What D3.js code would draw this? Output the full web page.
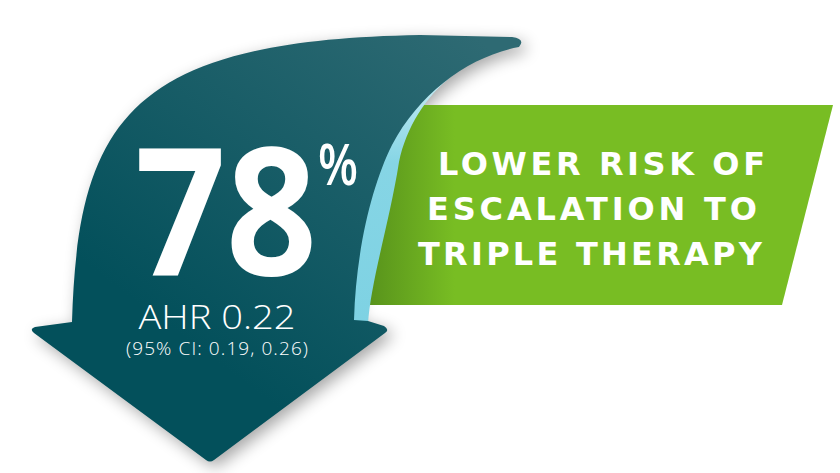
<!DOCTYPE html>
<html>
<head>
<meta charset="utf-8">
<script src="https://cdn.jsdelivr.net/npm/d3@7"></script>
<style>
  html, body { margin: 0; padding: 0; background: #fff; }
  svg { display: block; }
</style>
</head>
<body>
<svg id="chart" width="840" height="473"></svg>
<script>
// values shown on the graphic
const headline = [78];
const headlineUnit = ["%"];
const ahrValue = [0.22];
const ciBounds = [0.19, 0.26];
const labelLines = ["LOWER RISK OF", "ESCALATION TO", "TRIPLE THERAPY"];

const svg = d3.select("#chart");
const defs = svg.append("defs");

// soft shadow under the arrow
const shadow = defs.append("filter").attr("id", "shadow")
  .attr("x", "-20%").attr("y", "-20%").attr("width", "140%").attr("height", "140%");
shadow.append("feGaussianBlur").attr("in", "SourceAlpha").attr("stdDeviation", 8);
shadow.append("feOffset").attr("dx", 5).attr("dy", 5).attr("result", "off");
shadow.append("feComponentTransfer").append("feFuncA").attr("type", "linear").attr("slope", 0.35);

const tealGrad = defs.append("linearGradient").attr("id", "teal")
  .attr("x1", "0.9").attr("y1", "0").attr("x2", "0.3").attr("y2", "0.7");
tealGrad.append("stop").attr("offset", "0%").attr("stop-color", "#2e6a73");
tealGrad.append("stop").attr("offset", "100%").attr("stop-color", "#03505b");

const greenGrad = defs.append("linearGradient").attr("id", "green")
  .attr("x1", "0").attr("y1", "0").attr("x2", "1").attr("y2", "0");
greenGrad.append("stop").attr("offset", "0%").attr("stop-color", "#558f1b");
greenGrad.append("stop").attr("offset", "20%").attr("stop-color", "#78bd23");
greenGrad.append("stop").attr("offset", "100%").attr("stop-color", "#78bd23");

const blueGrad = defs.append("linearGradient").attr("id", "blue")
  .attr("x1", "0").attr("y1", "0").attr("x2", "0").attr("y2", "1");
blueGrad.append("stop").attr("offset", "0%").attr("stop-color", "#c6ecf3");
blueGrad.append("stop").attr("offset", "35%").attr("stop-color", "#86d5e5");
blueGrad.append("stop").attr("offset", "100%").attr("stop-color", "#7ed2e3");

// arrow outline
const arrowPath = "M72,322 C78,120 130,40 420,35 L512,37 Q526,39 519,47 " +
  "C470,56 420,92 392,145 C372,185 356,250 354,320 " +
  "L368,321 L384,326 Q390,330 385,333 L214,460 Q210,463 206,460 L34,333 Q29,329 35,327 Z";

// light blue curl on the right edge of the shaft
const curlPath = "M452,76 C426,96 406,128 399,162 C390,220 371,280 368,324 " +
  "L346,324 C348,250 362,185 384,142 C410,95 440,80 452,76 Z";

svg.append("path").attr("d", arrowPath).attr("fill", "#000").attr("filter", "url(#shadow)");

// green panel
svg.append("path")
  .attr("d", d3.line()([[380, 105], [833, 105], [782, 305], [360, 305]]) + "Z")
  .attr("fill", "url(#green)");

svg.append("path").attr("d", curlPath).attr("fill", "url(#blue)");
svg.append("path").attr("d", arrowPath).attr("fill", "url(#teal)");

const font = "'Open Sans', 'DejaVu Sans', sans-serif";
const wide = "'DejaVu Sans', 'Open Sans', sans-serif";

// big number with its unit as a raised tspan
const big = svg.append("text")
  .attr("x", 135).attr("y", 275)
  .attr("font-family", font).attr("fill", "#fff");
big.append("tspan")
  .attr("font-weight", 700).attr("font-size", 178)
  .attr("textLength", 182).attr("lengthAdjust", "spacingAndGlyphs")
  .text(headline[0]);
big.append("tspan")
  .attr("x", 318).attr("y", 185)
  .attr("font-weight", 600).attr("font-size", 57)
  .attr("textLength", 40).attr("lengthAdjust", "spacingAndGlyphs")
  .text(headlineUnit[0]);

const f2 = d3.format(".2f");
svg.append("text")
  .attr("x", 217).attr("y", 329).attr("text-anchor", "middle")
  .attr("font-family", font).attr("font-weight", 300)
  .attr("font-size", 33).attr("fill", "#fff")
  .attr("textLength", 157).attr("lengthAdjust", "spacingAndGlyphs")
  .text(`AHR ${f2(ahrValue[0])}`);

svg.append("text")
  .attr("x", 217).attr("y", 355).attr("text-anchor", "middle")
  .attr("font-family", font).attr("font-weight", 300)
  .attr("font-size", 19).attr("fill", "#fff")
  .attr("textLength", 182).attr("lengthAdjust", "spacing")
  .text(`(95% CI: ${f2(ciBounds[0])}, ${f2(ciBounds[1])})`);

// label lines in the green panel
const lineSpans = [[438, 765], [427, 757], [418, 762]];
svg.selectAll(".label")
  .data(labelLines)
  .enter().append("text")
  .attr("class", "label")
  .attr("x", (d, i) => lineSpans[i][0])
  .attr("y", (d, i) => 175 + i * 45)
  .attr("font-family", wide).attr("font-weight", 700)
  .attr("font-size", 32).attr("fill", "#fff")
  .attr("textLength", (d, i) => lineSpans[i][1] - lineSpans[i][0])
  .attr("lengthAdjust", "spacing")
  .text(d => d);
</script>
</body>
</html>
